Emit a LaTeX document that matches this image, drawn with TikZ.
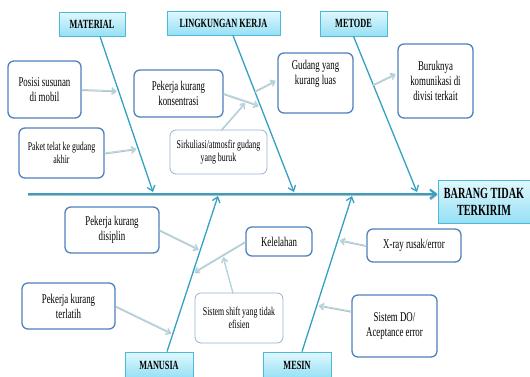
\documentclass[tikz,border=0pt]{standalone}
\usepackage{fontspec}
\setmainfont{Liberation Serif}[FakeStretch=0.66]
\usetikzlibrary{arrows.meta}

\definecolor{bonecol}{RGB}{52,160,196}
\definecolor{boxblue}{RGB}{79,129,189}
\definecolor{boxlite}{RGB}{149,179,215}
\definecolor{headtop}{RGB}{224,248,253}
\definecolor{headbot}{RGB}{150,224,245}
\definecolor{headline}{RGB}{75,185,215}

\tikzset{
  head/.style={draw=headline, line width=0.8pt, top color=headtop, bottom color=headbot,
    font=\fontsize{12.5}{14}\selectfont\bfseries, inner sep=0pt, align=center},
  causebox/.style={draw=boxblue, line width=1.3pt, rounded corners=6pt, fill=white,
    align=center, inner sep=0pt, font=\fontsize{13.4}{15}\selectfont},
  litebox/.style={causebox, draw=boxlite, line width=0.8pt, font=\fontsize{11.9}{13}\selectfont},
  spine/.style={draw=bonecol, line width=2pt, -{Straight Barb[length=6pt,width=9pt]},
    preaction={draw=gray!55, line width=1.2pt, transform canvas={yshift=-1.3pt}}},
  bone/.style={draw=bonecol, line width=1.3pt, -{Straight Barb[length=5pt,width=8pt]}},
  feed/.style={draw=bonecol!40, line width=1pt, shorten >=2pt, -{Straight Barb[length=4pt,width=6pt]},
    preaction={draw=gray!50, line width=1pt, transform canvas={yshift=-1pt}}},
}

\begin{document}
\begin{tikzpicture}[x=1pt, y=-1pt]
    \useasboundingbox (0,0) rectangle (530,376);

    % Heads
    \node[head, minimum width=66pt, minimum height=24pt] (mat) at (92,24) {MATERIAL};
    \node[head, minimum width=113pt, minimum height=24pt] (lk) at (223.5,23) {LINGKUNGAN KERJA};
    \node[head, minimum width=67pt, minimum height=25pt] (met) at (353.5,23.5) {METODE};
    \node[head, minimum width=68pt, minimum height=26pt] (man) at (159,365) {MANUSIA};
    \node[head, minimum width=68pt, minimum height=26pt] (mes) at (297,365) {MESIN};
    \node[head, minimum width=92pt, minimum height=43pt, font=\fontsize{15.5}{17}\selectfont\bfseries] (eff) at (484,201.5) {BARANG TIDAK\\TERKIRIM};

    % Causes
    \node[causebox, minimum width=73pt, minimum height=57pt] (posisi) at (44.5,89.5) {Posisi susunan\\di mobil};
    \node[litebox, draw=boxblue, line width=1.3pt, minimum width=85pt, minimum height=50pt] (paket) at (61.5,153) {Paket telat ke gudang\\akhir};
    \node[causebox, minimum width=89pt, minimum height=47pt] (konsen) at (178.5,93.5) {Pekerja kurang\\konsentrasi};
    \node[litebox, minimum width=97pt, minimum height=44pt] (sirk) at (218.5,152) {Sirkuliasi/atmosfir gudang\\yang buruk};
    \node[causebox, minimum width=75pt, minimum height=60pt] (gudang) at (315.5,83) {Gudang yang\\kurang luas\\[6pt]};
    \node[causebox, minimum width=75pt, minimum height=74pt] (buruk) at (435.5,81) {Buruknya\\komunikasi di\\divisi terkait};

    \node[causebox, minimum width=94pt, minimum height=46pt] (disiplin) at (112,230) {Pekerja kurang\\disiplin};
    \node[causebox, minimum width=66pt, minimum height=29pt] (lelah) at (279,241.5) {Kelelahan};
    \node[litebox, minimum width=88pt, minimum height=50pt] (shift) at (239,318) {Sistem shift yang tidak\\efisien};
    \node[causebox, minimum width=93pt, minimum height=46pt] (terlatih) at (68.5,306) {Pekerja kurang\\terlatih};
    \node[causebox, minimum width=94pt, minimum height=33pt] (xray) at (414,245.5) {X-ray rusak/error};
    \node[causebox, minimum width=85pt, minimum height=62pt] (sisdo) at (394.5,326) {Sistem DO/\\Aceptance error};

    % Spine
    \coordinate (spS) at (28,194);
    \draw[spine] (spS) -- (spS -| eff.west);

    % Bones
    \coordinate (jMat) at (153,192);
    \coordinate (jLk) at (294,192);
    \coordinate (jMet) at (417,192);
    \coordinate (jMan) at (218,196);
    \coordinate (jMes) at (352,196);
    \draw[bone] ([xshift=8pt]mat.south) -- (jMat) coordinate[pos=0.35] (bMat1) coordinate[pos=0.72] (bMat2);
    \draw[bone] ([xshift=9.5pt]lk.south) -- (jLk) coordinate[pos=0.45] (bLk1) coordinate[pos=0.357] (bLk2);
    \draw[bone] (met.south) -- (jMet) coordinate[pos=0.31] (bMet1);
    \draw[bone] ([xshift=8pt]man.north) -- (jMan) coordinate[pos=0.654] (bMan1) coordinate[pos=0.506] (bMan2) coordinate[pos=0.115] (bMan3);
    \draw[bone] ([xshift=5pt]mes.north) -- (jMes) coordinate[pos=0.72] (bMes1) coordinate[pos=0.3] (bMes2);

    % Sub causes
    \draw[feed] (posisi.east) -- (bMat1);
    \draw[feed] (paket.east) -- (bMat2);
    \draw[feed] (konsen.east) -- (bLk1) coordinate[pos=0.62] (kSirk);
    \draw[feed] ([xshift=3pt]sirk.north) -- (kSirk);
    \draw[feed] (bLk2) -- (gudang.175);
    \draw[feed] (bMet1) -- (buruk.168);

    \draw[feed] (disiplin.east) -- (bMan1);
    \draw[feed] (lelah.west) -- (bMan2) coordinate[pos=0.43] (kShift);
    \draw[feed] ([xshift=-6pt]shift.north) -- (kShift);
    \draw[feed] (terlatih.east) -- (bMan3);
    \draw[feed] (xray.west) -- (bMes1);
    \draw[feed] (sisdo.161) -- (bMes2);

\end{tikzpicture}
\end{document}
